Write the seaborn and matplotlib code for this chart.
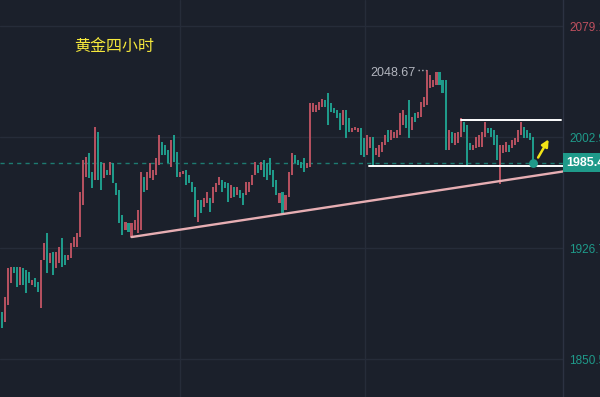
import matplotlib
matplotlib.use("Agg")
import matplotlib.pyplot as plt
import pandas as pd
import seaborn as sns

# gold, 4h candles
title = "黄金四小时"

opens = [
    1882.8, 1876.0, 1887.6, 1902.7, 1913.7, 1913.7, 1901.3, 1913.0, 1911.6, 1910.3,
    1901.3, 1906.2, 1903.4, 1885.6, 1918.5, 1937.0, 1916.5, 1924.0, 1913.0, 1916.5,
    1933.6, 1921.9, 1918.5, 1919.9, 1927.4, 1927.4, 1934.3, 1956.3, 1975.5, 1992.0,
    1978.9, 1973.4, 2006.4, 1985.8, 1974.8, 1980.3, 1976.9, 1985.1, 1971.4, 1966.6,
    1949.4, 1939.1, 1943.9, 1934.3, 1939.1, 1937.0, 1939.1, 1975.5, 1966.6, 1974.8,
    1973.4, 1976.9, 1983.7, 1999.5, 1997.5, 1994.0, 1982.4, 2004.3, 1992.7, 1975.5,
    1977.6, 1980.3, 1976.9, 1972.1, 1968.6, 1944.6, 1959.7, 1954.9, 1957.6, 1961.1,
    1957.6, 1965.2, 1970.0, 1973.4, 1972.1, 1971.4, 1961.1, 1968.6, 1963.1, 1966.6,
    1964.5, 1963.1, 1965.2, 1970.0, 1976.9, 1983.7, 1980.3, 1987.2, 1985.1, 1988.5,
    1980.3, 1973.4, 1957.6, 1965.2, 1952.8, 1961.8, 1976.9, 1990.6, 1987.2, 1985.8,
    1988.5, 1981.7, 1982.4, 2020.1, 2020.1, 2021.5, 2023.5, 2028.4, 2033.2, 2026.3,
    2022.9, 2021.5, 2019.4, 2011.2, 2021.5, 2016.0, 2006.4, 2007.8, 2006.4, 2009.1,
    2002.3, 1990.6, 1995.4, 2003.0, 1990.6, 1989.2, 1992.7, 1997.5, 2007.8, 2000.9,
    2002.3, 2002.3, 2004.3, 2011.2, 2018.1, 2028.4, 2007.8, 2019.4, 2016.0, 2016.7,
    2023.5, 2024.9, 2036.6, 2037.3, 2038.6, 2047.6, 2042.1, 2042.1, 1994.0, 2006.4,
    1997.5, 1998.8, 2003.0, 2013.2, 2011.2, 1998.8, 1994.0, 1995.4, 1996.1, 1996.1,
    2003.0, 2009.1, 2009.1, 2007.8, 2004.3, 1970.7, 1992.0, 1992.7, 1997.5, 1995.4,
    1997.5, 1999.5, 2004.3, 2009.8, 2007.8, 2005.7, 2003.0]

closes = [
    1871.8, 1893.1, 1913.0, 1913.7, 1909.6, 1900.0, 1913.7, 1901.3, 1895.9, 1902.7,
    1904.8, 1900.0, 1896.5, 1918.5, 1930.2, 1909.6, 1923.3, 1908.2, 1924.0, 1927.4,
    1913.7, 1915.1, 1921.9, 1930.2, 1934.3, 1937.0, 1965.2, 1987.2, 1989.2, 1974.8,
    1967.9, 2009.8, 1973.4, 1966.6, 1985.1, 1976.9, 1985.8, 1971.4, 1963.1, 1943.9,
    1935.7, 1944.6, 1937.7, 1943.9, 1946.0, 1952.8, 1978.9, 1965.2, 1978.9, 1985.1,
    1980.3, 1988.5, 2004.3, 1990.6, 1990.6, 1985.1, 2000.9, 1985.8, 1975.5, 1978.9,
    1979.6, 1970.0, 1971.4, 1965.2, 1948.0, 1959.7, 1950.8, 1961.1, 1965.2, 1951.5,
    1968.6, 1971.4, 1975.5, 1965.2, 1967.9, 1958.3, 1970.0, 1961.8, 1968.6, 1961.1,
    1956.3, 1972.1, 1972.1, 1976.9, 1985.8, 1978.2, 1985.8, 1975.5, 1973.4, 1976.9,
    1968.6, 1963.1, 1964.5, 1950.8, 1963.1, 1978.9, 1992.0, 1985.1, 1983.7, 1981.7,
    1978.9, 1985.1, 2026.3, 2026.3, 2024.9, 2027.0, 2029.0, 2023.5, 2011.2, 2020.1,
    2019.4, 2016.0, 2007.8, 2021.5, 2002.3, 2006.4, 2009.1, 2009.8, 2009.1, 1990.6,
    1989.2, 2004.3, 2003.0, 1983.0, 1995.4, 1997.5, 1999.5, 2004.3, 1999.5, 2007.8,
    2006.4, 2007.8, 2019.4, 2021.5, 2009.1, 2002.3, 2016.7, 2013.2, 2020.1, 2027.0,
    2030.4, 2048.67, 2045.5, 2042.1, 2047.6, 2038.6, 2033.2, 1994.0, 2007.8, 1998.8,
    2005.7, 2006.4, 2016.0, 2006.4, 1982.4, 1994.0, 1997.5, 2003.0, 2004.3, 2006.4,
    2013.2, 2005.7, 2003.0, 1997.5, 1987.2, 1997.5, 1997.5, 1999.5, 1992.7, 2000.9,
    2002.3, 2007.8, 2013.2, 2002.3, 2002.3, 2000.9, 1985.4]

price_ticks = [2079.1, 2002.9, 1926.7, 1850.5]
tick_labels = ["2079.1", "2002.9", "1926.7", "1850.5"]
last_price = 1985.4
swing_high = 2048.67

# drawn lines: trend line and the range box (bar index, price)
trend_x = [43, 185.9]
trend_y = [1934.3, 1979.3]
support_x = [121.6, 185.9]
support_y = [1983.0, 1983.0]
resist_x = [152.1, 185.2]
resist_y = [2014.4, 2014.4]
arrow_from = (177.2, 1987.2)
arrow_to = (181.6, 2003.0)
time_grid = [59.0, 120.3]

bg = "#1b202b"
up_col = "#b4505f"
down_col = "#1f9a8a"
grid_col = "#262c39"

sns.set_theme(style="dark", rc={"axes.facecolor": bg, "figure.facecolor": bg})
plt.rcParams["font.family"] = ["Liberation Sans", "Noto Sans CJK SC", "DejaVu Sans"]

df = pd.DataFrame({"open": opens, "close": closes})
df["i"] = range(len(df))
df["col"] = [up_col if c >= o else down_col for o, c in zip(df["open"], df["close"])]

fig = plt.figure(figsize=(6, 3.97), dpi=100)
ax = fig.add_axes([0, 0, 563 / 600, 1])
ax.set_xlim(-0.56, 185.9)
ax.set_ylim(1824.5, 2097)

# grid
for p in price_ticks:
    ax.axhline(p, color=grid_col, lw=1, zorder=0)
for gx in time_grid:
    ax.axvline(gx, color=grid_col, lw=1, zorder=0)

# candles
ax.bar(df["i"], df["close"] - df["open"], bottom=df["open"], width=0.68,
       color=df["col"], linewidth=0, zorder=2)

# last price dashed line
ax.axhline(last_price, color=down_col, lw=1, ls=(0, (3, 3)), alpha=0.75, zorder=1)

# trend line + range box
sns.lineplot(x=trend_x, y=trend_y, ax=ax, color="#e7aeb3", lw=1.7, zorder=3)
sns.lineplot(x=support_x, y=support_y, ax=ax, color="white", lw=1.4, zorder=3)
sns.lineplot(x=resist_x, y=resist_y, ax=ax, color="white", lw=1.4, zorder=3)

ax.annotate("", xy=arrow_to, xytext=arrow_from,
            arrowprops=dict(arrowstyle="-|>", color="#f2e416", lw=1.8, mutation_scale=10),
            zorder=4)
ax.scatter([len(df) - 1], [last_price], s=28, color=down_col, zorder=5)

# high marker
hi_idx = closes.index(swing_high)
ax.text(hi_idx - 3.8, swing_high - 1.8, f"{swing_high:.2f}", ha="right", va="center",
        color="#b2b5be", fontsize=9)
ax.plot([hi_idx - 3.2, hi_idx - 0.4], [swing_high, swing_high], ls=":", color="#b2b5be", lw=1)

# right price axis
ax.yaxis.tick_right()
ax.set_yticks(price_ticks)
ax.set_yticklabels(tick_labels, fontsize=8.5)
for lab, c in zip(ax.get_yticklabels(), ["#c0505f"] + [down_col] * 3):
    lab.set_color(c)
ax.tick_params(axis="y", length=0, pad=4.5)
ax.set_xticks([])
for s in ["top", "left", "bottom"]:
    ax.spines[s].set_visible(False)
ax.spines["right"].set_color("#2c3242")
ax.spines["right"].set_linewidth(1)

ax.text(1.006, last_price, f"{last_price:.2f}", transform=ax.get_yaxis_transform(),
        ha="left", va="center", color="white", fontsize=9, fontweight="bold",
        bbox=dict(boxstyle="square,pad=0.3", fc=down_col, ec="none"), zorder=6)

fig.text(74 / 600, 1 - 46 / 397, title, color="#f5e83c", fontsize=11.5,
         family=["Noto Sans CJK SC"], va="center", ha="left")

fig.savefig("out.png", dpi=100, facecolor=bg)
